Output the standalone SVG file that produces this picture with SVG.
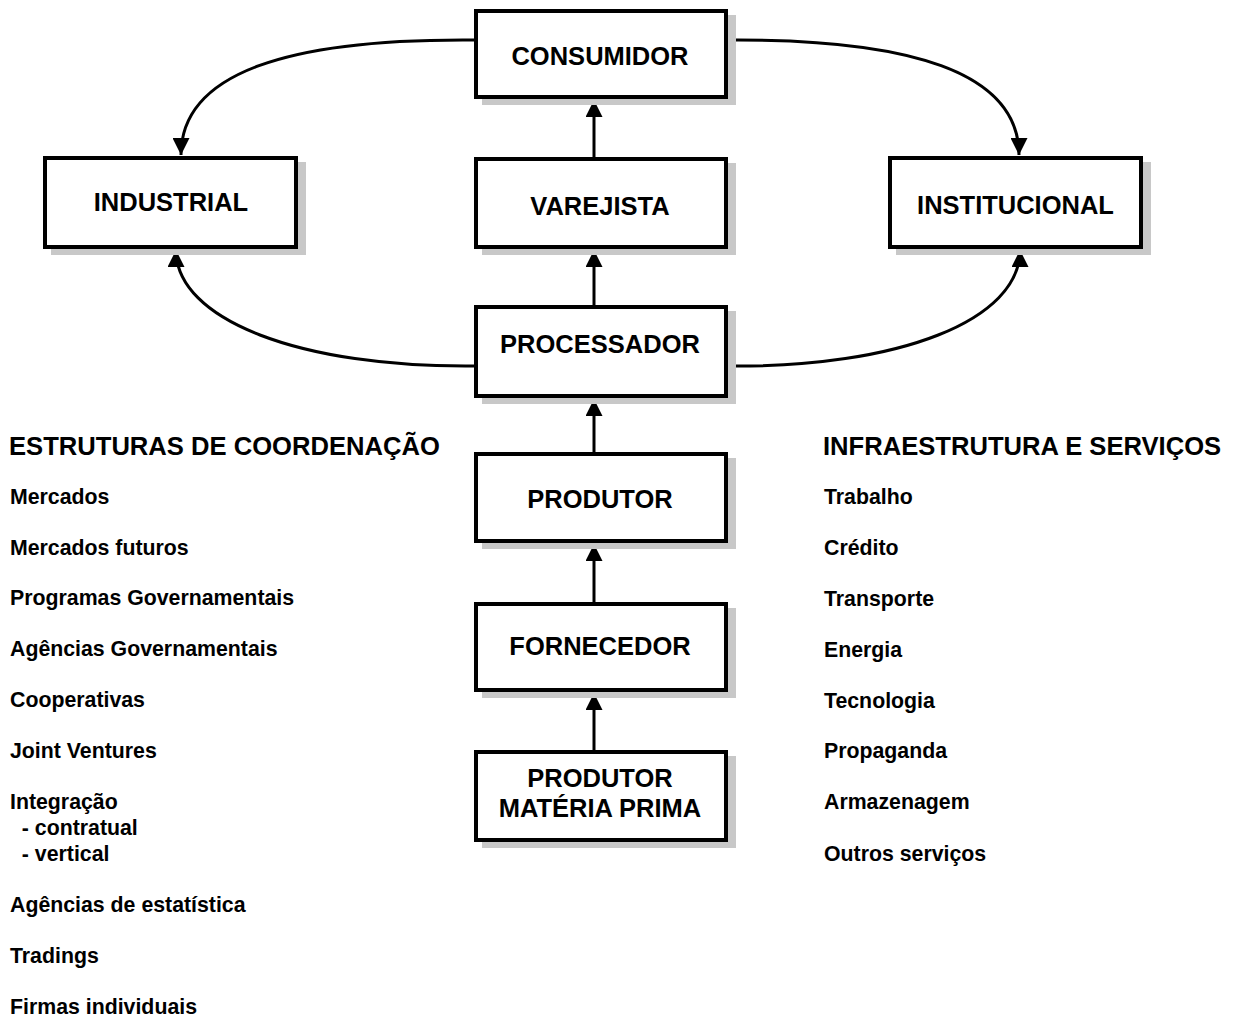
<svg xmlns="http://www.w3.org/2000/svg" width="1240" height="1019" viewBox="0 0 1240 1019">
<style>
.shadow{fill:#c8c8c8;}
.box{fill:#fff;stroke:#000;stroke-width:4;}
.lbl{font-family:"Liberation Sans",Arial,sans-serif;font-weight:bold;font-size:25.5px;fill:#000;text-anchor:middle;}
.hdr{font-family:"Liberation Sans",Arial,sans-serif;font-weight:bold;font-size:25.6px;fill:#000;}
.item{font-family:"Liberation Sans",Arial,sans-serif;font-weight:bold;font-size:21.3px;fill:#000;}
.conn{fill:none;stroke:#000;stroke-width:3;}
</style>
<defs>
<marker id="arr" markerUnits="userSpaceOnUse" markerWidth="17" markerHeight="17" viewBox="0 0 16 16" refX="16" refY="8" orient="auto">
<path d="M0,0 L16,8 L0,16 z" fill="#000"/>
</marker>
</defs>
<rect width="1240" height="1019" fill="#fff"/>

<g id="connectors">
<line class="conn" x1="594" y1="157" x2="594" y2="100" marker-end="url(#arr)"/>
<line class="conn" x1="594" y1="305" x2="594" y2="250" marker-end="url(#arr)"/>
<line class="conn" x1="594" y1="452" x2="594" y2="399" marker-end="url(#arr)"/>
<line class="conn" x1="594" y1="602" x2="594" y2="544" marker-end="url(#arr)"/>
<line class="conn" x1="594" y1="750" x2="594" y2="693" marker-end="url(#arr)"/>
<path class="conn" d="M478,40 C290,38 181,72 181,155" marker-end="url(#arr)"/>
<path class="conn" d="M723,40 C910,38 1019,72 1019,155" marker-end="url(#arr)"/>
<path class="conn" d="M476,366 C300,368 176,320 176,250" marker-end="url(#arr)"/>
<path class="conn" d="M726,366 C900,368 1020,320 1020,250" marker-end="url(#arr)"/>
</g>

<g id="consumidor">
<rect class="shadow" x="482" y="15" width="254" height="90"/>
<rect class="box" x="476" y="11" width="250" height="86"/>
<text class="lbl" x="600" y="65">CONSUMIDOR</text>
</g>
<g id="industrial">
<rect class="shadow" x="51" y="162" width="255" height="93"/>
<rect class="box" x="45" y="158" width="251" height="89"/>
<text class="lbl" x="171" y="211">INDUSTRIAL</text>
</g>
<g id="varejista">
<rect class="shadow" x="482" y="163" width="254" height="92"/>
<rect class="box" x="476" y="159" width="250" height="88"/>
<text class="lbl" x="600" y="215">VAREJISTA</text>
</g>
<g id="institucional">
<rect class="shadow" x="896" y="162" width="255" height="93"/>
<rect class="box" x="890" y="158" width="251" height="89"/>
<text class="lbl" x="1015.5" y="214">INSTITUCIONAL</text>
</g>
<g id="processador">
<rect class="shadow" x="482" y="311" width="254" height="93"/>
<rect class="box" x="476" y="307" width="250" height="89"/>
<text class="lbl" x="600" y="353">PROCESSADOR</text>
</g>
<g id="produtor">
<rect class="shadow" x="482" y="458" width="254" height="91"/>
<rect class="box" x="476" y="454" width="250" height="87"/>
<text class="lbl" x="600" y="508">PRODUTOR</text>
</g>
<g id="fornecedor">
<rect class="shadow" x="482" y="608" width="254" height="90"/>
<rect class="box" x="476" y="604" width="250" height="86"/>
<text class="lbl" x="600" y="655">FORNECEDOR</text>
</g>
<g id="produtor-materia-prima">
<rect class="shadow" x="482" y="756" width="254" height="92"/>
<rect class="box" x="476" y="752" width="250" height="88"/>
<text class="lbl" x="600" y="787">PRODUTOR</text>
<text class="lbl" x="600" y="817">MATÉRIA PRIMA</text>
</g>

<g id="estruturas">
<text class="hdr" x="9" y="455">ESTRUTURAS DE COORDENAÇÃO</text>
<text class="item" x="10" y="504">Mercados</text>
<text class="item" x="10" y="555">Mercados futuros</text>
<text class="item" x="10" y="605">Programas Governamentais</text>
<text class="item" x="10" y="656">Agências Governamentais</text>
<text class="item" x="10" y="707">Cooperativas</text>
<text class="item" x="10" y="758">Joint Ventures</text>
<text class="item" x="10" y="809">Integração</text>
<text class="item" x="10" y="835" xml:space="preserve">  - contratual</text>
<text class="item" x="10" y="861" xml:space="preserve">  - vertical</text>
<text class="item" x="10" y="912">Agências de estatística</text>
<text class="item" x="10" y="963">Tradings</text>
<text class="item" x="10" y="1014">Firmas individuais</text>
</g>

<g id="infraestrutura">
<text class="hdr" x="823" y="455">INFRAESTRUTURA E SERVIÇOS</text>
<text class="item" x="824" y="504">Trabalho</text>
<text class="item" x="824" y="555">Crédito</text>
<text class="item" x="824" y="606">Transporte</text>
<text class="item" x="824" y="657">Energia</text>
<text class="item" x="824" y="708">Tecnologia</text>
<text class="item" x="824" y="758">Propaganda</text>
<text class="item" x="824" y="809">Armazenagem</text>
<text class="item" x="824" y="861">Outros serviços</text>
</g>
</svg>
